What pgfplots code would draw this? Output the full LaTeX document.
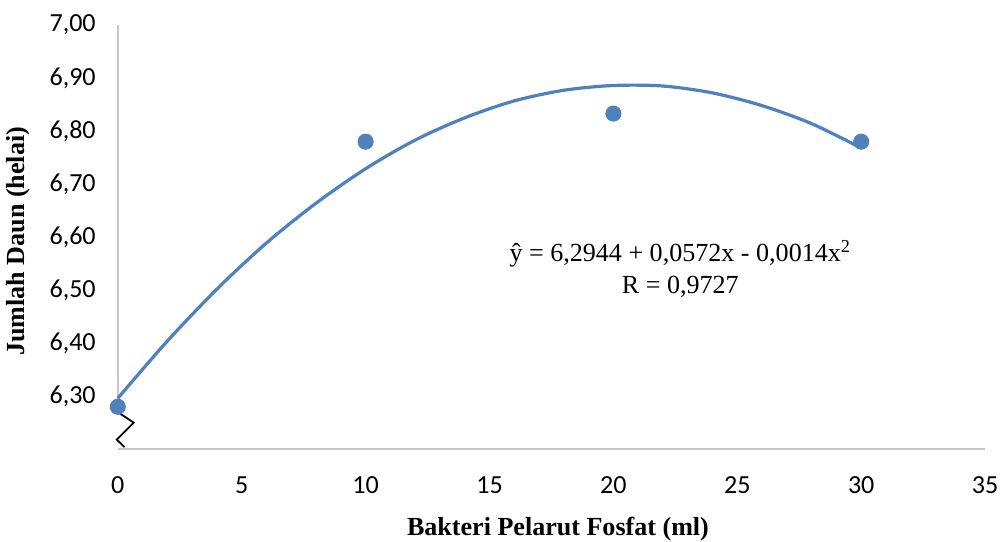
\documentclass[border=0pt]{standalone}
\usepackage{fontspec}
\setmainfont{Liberation Serif}
\newfontfamily\carlito{Carlito}
\usepackage{pgfplots}
\pgfplotsset{compat=1.18}
\definecolor{xlblue}{RGB}{79,129,189}
\definecolor{axgray}{RGB}{200,200,200}

\begin{document}
\begin{tikzpicture}
\begin{axis}[
    scale only axis,
    width=432.5pt,
    height=211.5pt,
    xmin=0, xmax=35,
    ymin=6.2, ymax=7.0,
    axis lines*=left,
    axis line style={draw=none},
    major tick length=0pt,
    xtick={0,5,...,35},
    ytick={6.3,6.4,...,7.01},
    clip=false,
    /pgf/number format/assume math mode=true,
    ticklabel style={font=\carlito\fontsize{13}{15}\selectfont},
    xticklabel style={yshift=-10pt},
    yticklabel style={xshift=-7.5pt, /pgf/number format/.cd, fixed, fixed zerofill, precision=2, use comma},
    xlabel={\textbf{Bakteri Pelarut Fosfat (ml)}},
    ylabel={\textbf{Jumlah Daun (helai)}},
    xlabel style={font=\fontsize{13}{15}\selectfont, at={(axis description cs:0.5075,-0.189)}, anchor=center, inner sep=0pt},
    ylabel style={font=\fontsize{13}{15}\selectfont, at={(axis description cs:-0.1145,0.49)}, anchor=center},
]
\coordinate (topleft) at (axis description cs:0,1);
% axis lines
\draw[axgray, line width=1pt] (axis cs:0,7.0) -- (axis cs:0,6.272);
\draw[axgray, line width=1pt] (axis cs:0,6.2) -- (axis cs:35,6.2);
% axis break
\draw[black, line width=0.9pt] (axis cs:0,6.270) -- (axis cs:0.64,6.250) -- (axis cs:-0.04,6.218) -- (axis cs:0.27,6.204);

% fitted curve
\addplot[xlblue, line width=1.6pt, smooth, no marks] coordinates {
    (0,6.296) (2,6.404) (4,6.502) (6,6.589) (8,6.664) (10,6.729)
    (12,6.783) (14,6.825) (16,6.857) (18,6.877) (20,6.886) (22,6.885)
    (24,6.872) (26,6.848) (28,6.814) (30,6.768)
};
% observed values
\addplot[only marks, mark=*, mark size=3.8pt, xlblue, mark options={fill=xlblue, draw=xlblue}] coordinates {
    (0,6.28) (10,6.78) (20,6.833) (30,6.78)
};

\node[align=center, font=\fontsize{13}{16}\selectfont] at (axis cs:22.7,6.54)
    {ŷ = 6,2944 + 0,0572x - 0,0014x\textsuperscript{2}\\R = 0,9727};
\end{axis}
% room above the plot area
\path (topleft) -- ([yshift=12.5pt]topleft);
\end{tikzpicture}
\end{document}
